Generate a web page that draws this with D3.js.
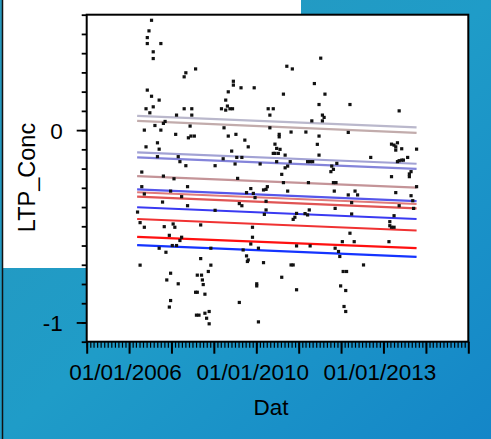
<!DOCTYPE html>
<head>
  <meta charset="utf-8">
  <title>LTP_Conc by Dat</title>
  <script src="https://cdn.jsdelivr.net/npm/d3@7"></script>
  <style>
    body { margin: 0; }
    text { font-family: "Liberation Sans", Arial, sans-serif; fill: #000; }
  </style>
</head>
<body>
<script>
// samples: [decimal year, LTP_Conc]
var samples = [
  [2006.53,0.571],[2006.47,0.516],[2006.43,0.481],[2006.43,0.450],[2006.75,0.450],[2006.57,0.407],
  [2006.57,0.372],[2006.43,0.208],[2006.53,0.176],[2006.57,0.121],[2006.40,0.111],[2006.49,0.090],
  [2006.71,0.156],[2006.61,0.024],[2006.81,0.035],[2006.75,0.000],[2006.36,0.000],[2006.67,-0.066],
  [2006.40,-0.087],[2006.71,-0.099],[2006.67,-0.138],[2006.30,-0.218],[2006.30,-0.294],[2006.36,-0.332],
  [2006.20,-0.426],[2006.26,-0.481],[2006.36,-0.505],[2006.26,-0.702],[2006.85,0.045],[2007.12,0.078],
  [2007.10,-0.022],[2006.81,-0.239],[2007.06,-0.253],[2006.98,-0.317],[2007.24,-0.346],[2006.79,-0.374],
  [2006.83,-0.502],[2006.95,-0.547],[2007.04,-0.488],[2007.08,-0.505],[2006.87,-0.635],[2006.71,-0.614],
  [2007.02,-0.600],[2007.12,-0.600],[2007.20,-0.574],[2007.24,-0.557],[2006.89,-0.779],[2006.98,-0.744],
  [2007.16,-0.799],[2006.98,-0.886],[2006.95,-0.920],
  [2007.30,0.277],[2007.34,0.298],[2007.57,0.318],[2007.30,0.111],[2007.48,0.111],[2007.48,0.078],
  [2007.44,0.021],[2007.40,-0.040],[2007.46,-0.031],[2007.54,-0.031],[2007.16,-0.138],[2007.20,-0.164],
  [2007.34,-0.185],[2007.38,-0.294],[2007.38,-0.393],[2007.69,-0.493],[2007.69,-0.668],[2007.61,-0.754],
  [2007.71,-0.754],[2007.73,-0.779],[2007.75,-0.803],[2007.57,-0.843],[2007.61,-0.843],[2007.79,-0.853],
  [2007.87,-0.735],[2007.93,-0.702],[2007.93,-0.614],[2007.59,-0.962],[2007.65,-0.962],[2007.79,-0.952],
  [2007.89,-0.943],[2007.83,-0.978],[2007.89,-1.007],[2008.03,-0.185],[2008.03,-0.417],
  [2008.46,0.254],[2008.46,0.234],[2008.64,0.220],[2008.34,0.199],[2008.28,0.156],[2008.32,0.125],
  [2008.18,0.111],[2008.28,0.104],[2008.38,0.111],[2008.44,0.111],[2008.95,0.220],[2008.24,0.012],
  [2008.34,-0.031],[2008.52,-0.022],[2008.73,-0.052],[2008.81,-0.087],[2008.42,-0.109],[2008.22,-0.149],
  [2008.54,-0.142],[2008.66,-0.142],[2008.50,-0.176],[2008.56,-0.251],[2008.77,-0.325],[2008.87,-0.304],
  [2008.93,-0.329],[2008.97,-0.351],[2008.60,-0.382],[2008.66,-0.393],[2009.09,-0.176],[2008.91,-0.505],
  [2008.91,-0.557],[2008.87,-0.592],[2008.69,-0.623],[2008.77,-0.654],[2008.81,-0.675],[2008.79,-0.683],
  [2009.05,-0.614],[2009.01,-0.799],[2009.01,-0.810],[2008.60,-0.896],[2009.05,-0.997],[2009.17,-0.689],
  [2009.28,0.111],[2009.40,0.111],[2009.32,0.078],[2009.32,0.012],[2009.64,0.187],[2009.72,0.332],
  [2009.85,0.318],[2009.54,-0.022],[2009.54,-0.035],[2009.82,-0.010],[2009.44,-0.073],[2009.48,-0.095],
  [2009.56,-0.100],[2009.44,-0.121],[2009.40,-0.121],[2009.52,-0.121],[2009.68,-0.130],[2009.80,-0.164],
  [2009.74,-0.187],[2009.48,-0.164],[2009.68,-0.196],[2009.60,-0.230],[2009.64,-0.273],[2009.74,-0.317],
  [2009.23,-0.308],[2009.26,-0.294],[2009.17,-0.311],[2009.23,-0.370],[2009.23,-0.415],[2009.19,-0.438],
  [2009.95,-0.433],[2009.91,-0.453],[2009.87,-0.464],[2009.95,-0.602],[2009.82,-0.701],[2009.87,-0.701],
  [2009.60,-0.765],[2009.95,-0.830],
  [2010.52,0.374],[2010.37,0.242],[2010.62,0.187],[2010.48,0.133],[2010.56,0.078],[2010.60,0.066],
  [2010.56,0.048],[2010.31,0.048],[2010.17,-0.010],[2010.48,-0.031],[2010.44,-0.074],[2010.48,-0.130],
  [2010.21,-0.164],[2010.27,-0.164],[2010.33,-0.164],[2010.78,-0.187],[2010.82,-0.204],[2010.76,-0.216],
  [2010.90,-0.173],[2010.23,-0.273],[2010.82,-0.273],[2010.88,-0.273],[2010.84,-0.317],[2010.25,-0.415],
  [2010.21,-0.441],[2010.15,-0.434],[2010.86,-0.407],[2010.27,-0.602],[2011.03,-0.580],[2010.86,-0.614],
  [2010.94,-0.631],[2010.97,-0.657],[2011.05,-0.735],[2011.13,-0.735],[2010.99,-0.810],[2011.11,-0.834],
  [2011.07,-0.917],[2011.11,-0.943],
  [2011.21,0.133],[2011.17,-0.012],[2011.70,-0.142],[2011.17,-0.337],[2011.25,-0.377],[2011.33,-0.317],
  [2011.39,-0.337],[2011.25,-0.436],[2011.21,-0.536],[2011.31,-0.580],[2011.53,-0.701],[2012.37,0.100],
  [2012.19,-0.073],[2012.25,-0.078],[2012.29,-0.087],[2012.33,-0.066],[2012.29,-0.104],[2012.43,-0.097],
  [2012.43,-0.156],[2012.37,-0.159],[2012.47,-0.156],[2012.57,-0.142],[2012.33,-0.164],[2012.78,-0.099],
  [2012.19,-0.242],[2012.65,-0.216],[2012.61,-0.228],[2012.61,-0.242],[2012.78,-0.294],[2012.29,-0.325],
  [2012.65,-0.341],[2012.37,-0.393],[2012.69,-0.367],[2012.71,-0.407],[2012.25,-0.445],[2012.15,-0.476],
  [2012.15,-0.497],[2012.19,-0.505],[2012.25,-0.505],[2012.13,-0.580]
];

// fitted lines, value at first and last date
var fitStartYear = 2006.19;
var fitEndYear = 2012.78;
var fitStart = [0.074, 0.048, -0.116, -0.142, -0.239, -0.308, -0.323, -0.346, -0.401, -0.462, -0.555, -0.598];
var fitEnd   = [0.014, -0.014, -0.175, -0.202, -0.299, -0.369, -0.384, -0.407, -0.462, -0.522, -0.614, -0.659];
var fitColors = ["#bab8cc", "#c2acac", "#a2a2d4", "#8484da", "#c49498", "#5656ea",
                 "#e07a7a", "#e05454", "#3a3af2", "#f03232", "#ff1010", "#1434ff"];

var xLabelYears = [2006, 2009, 2012];
var xLabelTexts = ["01/01/2006", "01/01/2010", "01/01/2013"];
var yTickValues = [0, -1];

var WIDTH = 491, HEIGHT = 439;
var plotL = 86.7, plotR = 468.3, plotT = 14.7, plotB = 341.7;

function toDate(v) {
  var y0 = Math.floor(v);
  var a = Date.UTC(y0, 0, 1), b = Date.UTC(y0 + 1, 0, 1);
  return new Date(a + (v - y0) * (b - a));
}

var svg = d3.select("body").append("svg")
            .attr("width", WIDTH)
            .attr("height", HEIGHT);

// background
var defs = svg.append("defs");
var grad = defs.append("linearGradient").attr("id", "bg")
               .attr("x1", 0).attr("y1", 0).attr("x2", 1).attr("y2", 1);
grad.append("stop").attr("offset", "0%").attr("stop-color", "#2898bc");
grad.append("stop").attr("offset", "50%").attr("stop-color", "#1f9cc8");
grad.append("stop").attr("offset", "100%").attr("stop-color", "#1486c8");
svg.append("rect").attr("width", WIDTH).attr("height", HEIGHT).attr("fill", "url(#bg)");
svg.append("path")
   .attr("d", "M3,0H301V15H86V268H3Z")
   .attr("fill", "#fff");
svg.append("line").attr("x1", 2.5).attr("x2", 2.5).attr("y1", 0).attr("y2", HEIGHT)
   .attr("stroke", "#111").attr("stroke-width", 1.5);

var x = d3.scaleUtc()
          .domain([new Date(Date.UTC(2005, 0, 1)), new Date(Date.UTC(2014, 0, 1))])
          .range([plotL, plotR]);
var y = d3.scaleLinear().domain([-1.1, 0.6]).range([plotB, plotT]);

svg.append("rect")
   .attr("x", plotL).attr("y", plotT)
   .attr("width", plotR - plotL).attr("height", plotB - plotT)
   .attr("fill", "#fff");

// y axis
var yMinor = svg.append("g").attr("transform", "translate(" + plotL + ",0)")
   .call(d3.axisLeft(y).ticks(17).tickSize(5).tickFormat(""));
var yMajor = svg.append("g").attr("transform", "translate(" + plotL + ",0)")
   .call(d3.axisLeft(y).tickValues(yTickValues).tickSize(10).tickPadding(14)
          .tickFormat(function(d){ return d === 0 ? "0" : String(d); }));
[yMinor, yMajor].forEach(function(g){
  g.select(".domain").remove();
  g.selectAll("line").attr("stroke", "#000").attr("stroke-width", 1.8);
});
yMajor.selectAll("text").attr("font-size", 22.5).attr("dy", "0.36em")
      .attr("font-family", "Liberation Sans, Arial, sans-serif");

// x axis
var xMinor = svg.append("g").attr("transform", "translate(0," + plotB + ")")
   .call(d3.axisBottom(x).tickValues(d3.utcMonth.range(x.domain()[0], x.domain()[1])).tickSize(6).tickFormat(""));
var xMajor = svg.append("g").attr("transform", "translate(0," + plotB + ")")
   .call(d3.axisBottom(x).tickValues(d3.utcYear.range(x.domain()[0], d3.utcDay.offset(x.domain()[1], 1))).tickSize(12).tickFormat(""));
xMinor.select(".domain").remove();
xMajor.select(".domain").remove();
xMinor.selectAll("line").attr("stroke", "#000").attr("stroke-width", 1.2);
xMajor.selectAll("line").attr("stroke", "#000").attr("stroke-width", 2);

svg.append("g").selectAll("text")
   .data(xLabelYears)
   .enter().append("text")
   .attr("x", function(d){ return x(toDate(d)) - 3.5; })
   .attr("y", 380)
   .attr("text-anchor", "middle")
   .attr("font-size", 22.5)
   .text(function(d, i){ return xLabelTexts[i]; });

svg.append("text")
   .attr("x", 271).attr("y", 415)
   .attr("text-anchor", "middle")
   .attr("font-size", 22.5)
   .text("Dat");

svg.append("text")
   .attr("transform", "translate(35,177.5) rotate(-90)")
   .attr("text-anchor", "middle")
   .attr("font-size", 23.5)
   .text("LTP_Conc");

// fit lines
svg.append("g").selectAll("line")
   .data(fitStart)
   .enter().append("line")
   .attr("x1", x(toDate(fitStartYear)))
   .attr("x2", x(toDate(fitEndYear)))
   .attr("y1", function(d){ return y(d); })
   .attr("y2", function(d, i){ return y(fitEnd[i]); })
   .attr("stroke", function(d, i){ return fitColors[i]; })
   .attr("stroke-width", 2.2);

// points
svg.append("g").selectAll("rect")
   .data(samples)
   .enter().append("rect")
   .attr("x", function(d){ return x(toDate(d[0])) - 1.6; })
   .attr("y", function(d){ return y(d[1]) - 1.6; })
   .attr("width", 3.2).attr("height", 3.2)
   .attr("fill", "#111");

// frame
svg.append("rect")
   .attr("x", plotL).attr("y", plotT)
   .attr("width", plotR - plotL).attr("height", plotB - plotT)
   .attr("fill", "none").attr("stroke", "#000").attr("stroke-width", 2);
</script>
</body>
